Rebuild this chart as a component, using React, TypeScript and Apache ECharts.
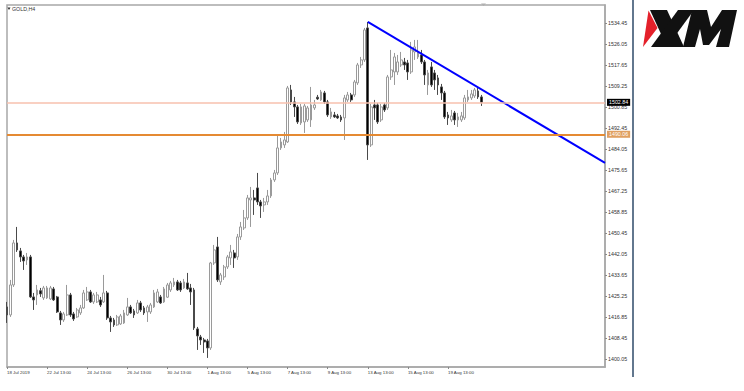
import { useEffect, useRef } from "react";
import * as echarts from "echarts";

// ---- data (GOLD, H4) ----
const opens = [
  1421.0, 1417.8, 1429.8, 1446.6, 1443.4, 1441.0, 1439.8, 1441.0, 1425.0, 1425.8,
  1427.5, 1424.6, 1424.6, 1424.2, 1428.2, 1425.0, 1418.6, 1415.8, 1417.8, 1425.8,
  1418.2, 1417.0, 1418.6, 1420.6, 1423.8, 1427.0, 1423.0, 1423.0, 1423.8, 1423.0,
  1426.6, 1416.6, 1415.8, 1413.8, 1414.2, 1414.6, 1417.8, 1421.0, 1419.4, 1418.6,
  1422.6, 1420.6, 1419.0, 1419.0, 1421.0, 1423.0, 1425.0, 1423.0, 1424.9, 1427.8,
  1429.8, 1431.0, 1430.6, 1428.6, 1430.6, 1428.6, 1427.8, 1412.2, 1409.0, 1407.8,
  1407.4, 1404.6, 1438.6, 1445.0, 1431.0, 1433.0, 1437.0, 1440.6, 1442.6, 1441.0,
  1449.0, 1452.6, 1456.6, 1463.8, 1464.6, 1468.6, 1463.0, 1461.8, 1463.0, 1465.4,
  1471.8, 1474.6, 1484.6, 1485.8, 1487.0, 1507.8, 1503.0, 1501.0, 1494.6, 1495.0,
  1495.8, 1495.8, 1500.6, 1504.9, 1503.8, 1506.6, 1503.0, 1497.0, 1497.8, 1497.4,
  1497.0, 1496.6, 1503.8, 1505.8, 1505.8, 1510.6, 1517.8, 1519.8, 1532.6, 1485.8,
  1501.8, 1501.8, 1495.8, 1501.8, 1500.6, 1513.0, 1515.0, 1515.0, 1517.8, 1519.0,
  1518.6, 1515.0, 1523.0, 1521.0, 1521.8, 1519.0, 1509.8, 1517.0, 1514.6, 1512.6,
  1509.0, 1506.6, 1497.8, 1495.8, 1498.6, 1495.8, 1495.8, 1496.6, 1503.8, 1504.6,
  1505.4, 1507.4, 1505.0,
];
const closes = [
  1417.8, 1429.8, 1446.6, 1443.8, 1441.0, 1439.4, 1441.0, 1425.0, 1423.8, 1427.8,
  1426.2, 1428.6, 1428.6, 1428.6, 1423.8, 1419.0, 1415.8, 1418.2, 1425.8, 1417.8,
  1416.2, 1419.8, 1420.6, 1426.6, 1427.0, 1423.0, 1425.8, 1425.8, 1421.8, 1426.6,
  1416.6, 1415.0, 1413.8, 1417.0, 1417.4, 1418.6, 1421.0, 1418.6, 1417.8, 1422.6,
  1419.8, 1418.6, 1421.0, 1421.8, 1426.6, 1427.0, 1422.6, 1428.2, 1429.8, 1430.6,
  1431.0, 1427.8, 1427.8, 1431.0, 1428.2, 1427.0, 1412.6, 1409.4, 1407.8, 1407.0,
  1404.6, 1438.6, 1443.8, 1431.8, 1433.8, 1437.0, 1441.0, 1443.0, 1440.6, 1449.0,
  1453.0, 1456.6, 1464.6, 1464.6, 1463.8, 1463.0, 1461.4, 1463.0, 1465.4, 1471.8,
  1474.6, 1484.6, 1487.0, 1487.8, 1508.6, 1503.0, 1501.0, 1495.0, 1501.0, 1501.4,
  1500.6, 1501.8, 1501.8, 1504.2, 1507.0, 1503.0, 1497.8, 1499.0, 1497.0, 1496.6,
  1495.8, 1504.6, 1505.8, 1503.8, 1511.0, 1517.8, 1519.8, 1531.8, 1485.8, 1501.0,
  1500.6, 1495.0, 1501.0, 1499.8, 1513.0, 1515.8, 1521.0, 1519.0, 1519.8, 1517.8,
  1515.0, 1523.8, 1525.0, 1523.0, 1519.0, 1513.8, 1514.6, 1509.8, 1511.8, 1509.8,
  1506.6, 1497.0, 1496.6, 1497.4, 1495.8, 1497.0, 1497.4, 1504.6, 1505.0, 1506.2,
  1507.8, 1505.0, 1502.84,
];
const lows = [
  1414.6, 1417.0, 1429.0, 1443.0, 1439.0, 1435.8, 1437.8, 1424.6, 1419.8, 1421.8,
  1425.0, 1423.8, 1424.2, 1423.8, 1423.4, 1418.6, 1413.8, 1415.0, 1417.4, 1417.0,
  1415.4, 1416.6, 1417.8, 1420.2, 1423.4, 1422.6, 1422.2, 1422.6, 1421.0, 1422.6,
  1415.8, 1411.0, 1413.0, 1413.4, 1413.8, 1414.2, 1417.4, 1418.2, 1416.6, 1418.2,
  1419.0, 1417.8, 1415.0, 1418.2, 1420.6, 1422.6, 1422.2, 1422.6, 1424.6, 1427.0,
  1429.0, 1427.4, 1427.0, 1428.2, 1427.8, 1421.8, 1411.8, 1403.8, 1405.8, 1402.6,
  1400.6, 1403.8, 1437.8, 1431.0, 1429.8, 1431.8, 1436.2, 1437.8, 1436.6, 1439.8,
  1447.8, 1451.8, 1455.8, 1453.0, 1457.8, 1461.8, 1456.6, 1459.0, 1461.8, 1464.6,
  1471.0, 1473.8, 1483.8, 1484.6, 1486.6, 1501.8, 1497.0, 1494.2, 1493.8, 1490.6,
  1495.0, 1493.0, 1499.8, 1503.8, 1503.4, 1502.2, 1497.0, 1496.2, 1496.6, 1496.2,
  1495.0, 1487.8, 1503.0, 1503.0, 1505.0, 1509.8, 1516.6, 1519.0, 1479.8, 1485.0,
  1495.8, 1494.2, 1495.0, 1499.0, 1499.8, 1511.8, 1509.8, 1513.8, 1517.0, 1515.8,
  1511.8, 1514.2, 1519.8, 1520.2, 1518.2, 1509.8, 1505.8, 1509.0, 1507.8, 1505.8,
  1503.8, 1496.2, 1493.8, 1495.0, 1493.8, 1493.0, 1495.0, 1495.8, 1503.0, 1503.8,
  1504.6, 1504.2, 1501.4,
];
const highs = [
  1423.0, 1431.8, 1447.8, 1453.0, 1444.6, 1441.8, 1442.6, 1441.8, 1426.6, 1429.8,
  1428.6, 1429.4, 1429.4, 1429.4, 1429.0, 1425.4, 1419.4, 1419.0, 1429.8, 1426.6,
  1419.0, 1420.6, 1421.8, 1427.8, 1429.0, 1427.8, 1426.6, 1427.0, 1425.0, 1433.8,
  1427.4, 1417.4, 1416.6, 1417.8, 1418.2, 1419.8, 1424.6, 1421.8, 1420.2, 1423.8,
  1423.4, 1421.4, 1421.8, 1422.6, 1427.8, 1428.2, 1425.8, 1429.0, 1430.6, 1431.4,
  1432.6, 1431.8, 1431.4, 1432.2, 1434.6, 1430.2, 1428.6, 1413.0, 1409.8, 1408.6,
  1408.2, 1439.0, 1445.8, 1449.0, 1434.6, 1437.8, 1441.8, 1445.8, 1443.8, 1450.2,
  1455.0, 1459.8, 1465.8, 1469.0, 1467.8, 1474.6, 1463.8, 1464.6, 1467.8, 1472.6,
  1475.8, 1489.8, 1488.6, 1491.0, 1509.4, 1509.8, 1505.0, 1501.8, 1502.2, 1502.2,
  1501.4, 1509.0, 1503.8, 1505.8, 1507.8, 1507.4, 1503.8, 1500.6, 1499.0, 1498.2,
  1497.8, 1505.8, 1507.0, 1506.6, 1511.8, 1518.6, 1521.0, 1532.6, 1535.0, 1502.2,
  1503.8, 1502.6, 1502.2, 1502.6, 1513.8, 1523.8, 1522.6, 1521.8, 1523.0, 1520.6,
  1519.8, 1527.0, 1527.8, 1527.8, 1523.8, 1519.8, 1515.8, 1519.0, 1515.8, 1513.8,
  1510.2, 1507.4, 1499.0, 1499.8, 1499.4, 1498.6, 1499.0, 1505.8, 1507.8, 1507.8,
  1508.6, 1508.6, 1505.8,
];

const yTickValues = [
  1400.05, 1408.45, 1416.85, 1425.25, 1433.65, 1442.05, 1450.45, 1458.85, 1467.25,
  1475.65, 1484.05, 1492.45, 1500.85, 1509.25, 1517.65, 1526.05, 1534.45,
];
const xTickLabels = [
  "18 Jul 2019", "22 Jul 13:00", "24 Jul 13:00", "26 Jul 13:00", "30 Jul 13:00",
  "1 Aug 13:00", "5 Aug 13:00", "7 Aug 13:00", "9 Aug 13:00", "13 Aug 13:00",
  "15 Aug 13:00", "19 Aug 13:00",
];
const bidPrice = 1502.84;
const levelPrice = 1490.06;
const trendStart = { bar: 108, price: 1535.0 };
const trendEnd = { bar: 179, price: 1478.6 };
const totalBars = 180; // visible bar slots incl. right shift
const symbolLabel = "GOLD,H4";
const yMin = 1396.97;
const yMax = 1541.77;

const MONTHS = ["Jan", "Feb", "Mar", "Apr", "May", "Jun", "Jul", "Aug", "Sep", "Oct", "Nov", "Dec"];

function buildCategories(): string[] {
  const out: string[] = [];
  let t = Date.UTC(2019, 6, 18, 13);
  while (out.length < totalBars) {
    const d = new Date(t);
    const dow = d.getUTCDay();
    if (dow === 6 || dow === 0) {
      t += 4 * 3600 * 1000;
      continue;
    }
    const hh = String(d.getUTCHours()).padStart(2, "0");
    out.push(`${d.getUTCDate()} ${MONTHS[d.getUTCMonth()]} ${hh}:00`);
    t += 4 * 3600 * 1000;
  }
  return out;
}

const FONT = "Liberation Sans";

export default function App() {
  const ref = useRef<HTMLDivElement>(null);
  useEffect(() => {
    if (!ref.current) return;
    const chart = echarts.init(ref.current, undefined, { renderer: "svg" });
    const categories = buildCategories();
    const labelSet = new Set(xTickLabels);
    const showTick = (idx: number, name: string) => idx === 0 || labelSet.has(name);

    const candles: any[] = [];
    for (let i = 0; i < totalBars; i++) {
      if (i < opens.length) candles.push([opens[i], closes[i], lows[i], highs[i]]);
      else candles.push("-");
    }
    const trend: any[] = new Array(totalBars).fill("-");
    trend[trendStart.bar] = trendStart.price;
    trend[trendEnd.bar] = trendEnd.price;

    const logoBlack = "#111";
    chart.setOption({
      animation: false,
      backgroundColor: "#fff",
      textStyle: { fontFamily: FONT },
      grid: {
        left: 7,
        top: 5,
        width: 598,
        height: 362,
        show: true,
        borderColor: "#a8a8a8",
        borderWidth: 1.5,
        backgroundColor: "#fff",
      },
      xAxis: {
        type: "category",
        data: categories,
        boundaryGap: false,
        axisLine: { show: true, lineStyle: { color: "#a8a8a8", width: 1.5 } },
        axisTick: {
          show: true,
          interval: showTick,
          length: 2,
          lineStyle: { color: "#888", width: 1 },
        },
        axisLabel: {
          interval: showTick,
          formatter: (name: string, idx: number) => (idx === 0 ? xTickLabels[0] : name),
          fontSize: 4.4,
          color: "#333",
          align: "left",
          margin: 3,
          fontFamily: FONT,
        },
        splitLine: { show: false },
      },
      yAxis: {
        type: "value",
        position: "right",
        min: yMin,
        max: yMax,
        axisLine: { show: true, lineStyle: { color: "#a8a8a8", width: 1.5 } },
        axisTick: {
          show: true,
          customValues: yTickValues,
          length: 2,
          lineStyle: { color: "#888", width: 1 },
        },
        axisLabel: {
          customValues: yTickValues,
          formatter: (v: number) => v.toFixed(2),
          fontSize: 5.3,
          color: "#333",
          margin: 3,
          fontFamily: FONT,
        },
        splitLine: { show: false },
      },
      series: [
        {
          type: "candlestick",
          data: candles,
          barWidth: 2.3,
          clip: true,
          itemStyle: {
            color: "#ffffff",
            color0: "#000000",
            borderColor: "#9a9a9a",
            borderColor0: "#4a4a4a",
            borderWidth: 1,
          },
          markLine: {
            symbol: "none",
            silent: true,
            animation: false,
            data: [
              {
                yAxis: bidPrice,
                lineStyle: { color: "#f7c0ae", width: 1.5, type: "solid" },
                label: {
                  show: true,
                  position: "end",
                  distance: 2,
                  formatter: bidPrice.toFixed(2),
                  backgroundColor: "#000",
                  color: "#fff",
                  fontSize: 5.3,
                  padding: [1, 2, 1, 2],
                  fontFamily: FONT,
                },
              },
              {
                yAxis: levelPrice,
                lineStyle: { color: "#e58a33", width: 2, type: "solid" },
                label: {
                  show: true,
                  position: "end",
                  distance: 2,
                  formatter: levelPrice.toFixed(2),
                  backgroundColor: "#e0a062",
                  color: "#fff",
                  fontSize: 5.3,
                  padding: [1, 2, 1, 2],
                  fontFamily: FONT,
                },
              },
            ],
          },
          z: 3,
        },
        {
          type: "line",
          data: trend,
          connectNulls: true,
          symbol: "none",
          lineStyle: { color: "#0000ff", width: 2 },
          clip: true,
          z: 4,
        },
      ],
      graphic: [
        {
          type: "polygon",
          shape: { points: [[7.5, 7.5], [10.5, 7.5], [9, 10]] },
          style: { fill: "#333" },
        },
        {
          type: "text",
          x: 12,
          y: 6.5,
          style: { text: symbolLabel, fontSize: 5.3, fill: "#333", fontFamily: FONT },
        },
        {
          type: "polygon",
          shape: { points: [[481, 3.5], [486, 3.5], [483.5, 6]] },
          style: { fill: "#b0b0b0" },
        },
        {
          type: "line",
          shape: { x1: 633, y1: 0, x2: 633, y2: 377 },
          style: { stroke: "#2e4a68", lineWidth: 1.5 },
        },
        // XM logo
        {
          type: "polygon",
          shape: { points: [[648.5, 10.5], [657.5, 28], [643, 47]] },
          style: { fill: "#e4202a" },
        },
        {
          type: "polygon",
          shape: { points: [[650, 10], [667, 10], [684, 47], [667, 47]] },
          style: { fill: logoBlack },
        },
        {
          type: "polygon",
          shape: { points: [[678, 10], [694, 10], [667, 47], [651, 47]] },
          style: { fill: logoBlack },
        },
        {
          type: "polygon",
          shape: {
            points: [
              [683, 47], [692, 10], [707, 10], [711, 27], [722, 10], [737, 10],
              [729, 47], [716, 47], [721, 29], [709, 45], [703, 45], [700, 29], [695, 47],
            ],
          },
          style: { fill: logoBlack },
        },
      ],
    });
    return () => chart.dispose();
  }, []);
  return (
    <div
      ref={ref}
      style={{ position: "fixed", left: 0, top: 0, width: 744, height: 391, background: "#fff" }}
    />
  );
}
